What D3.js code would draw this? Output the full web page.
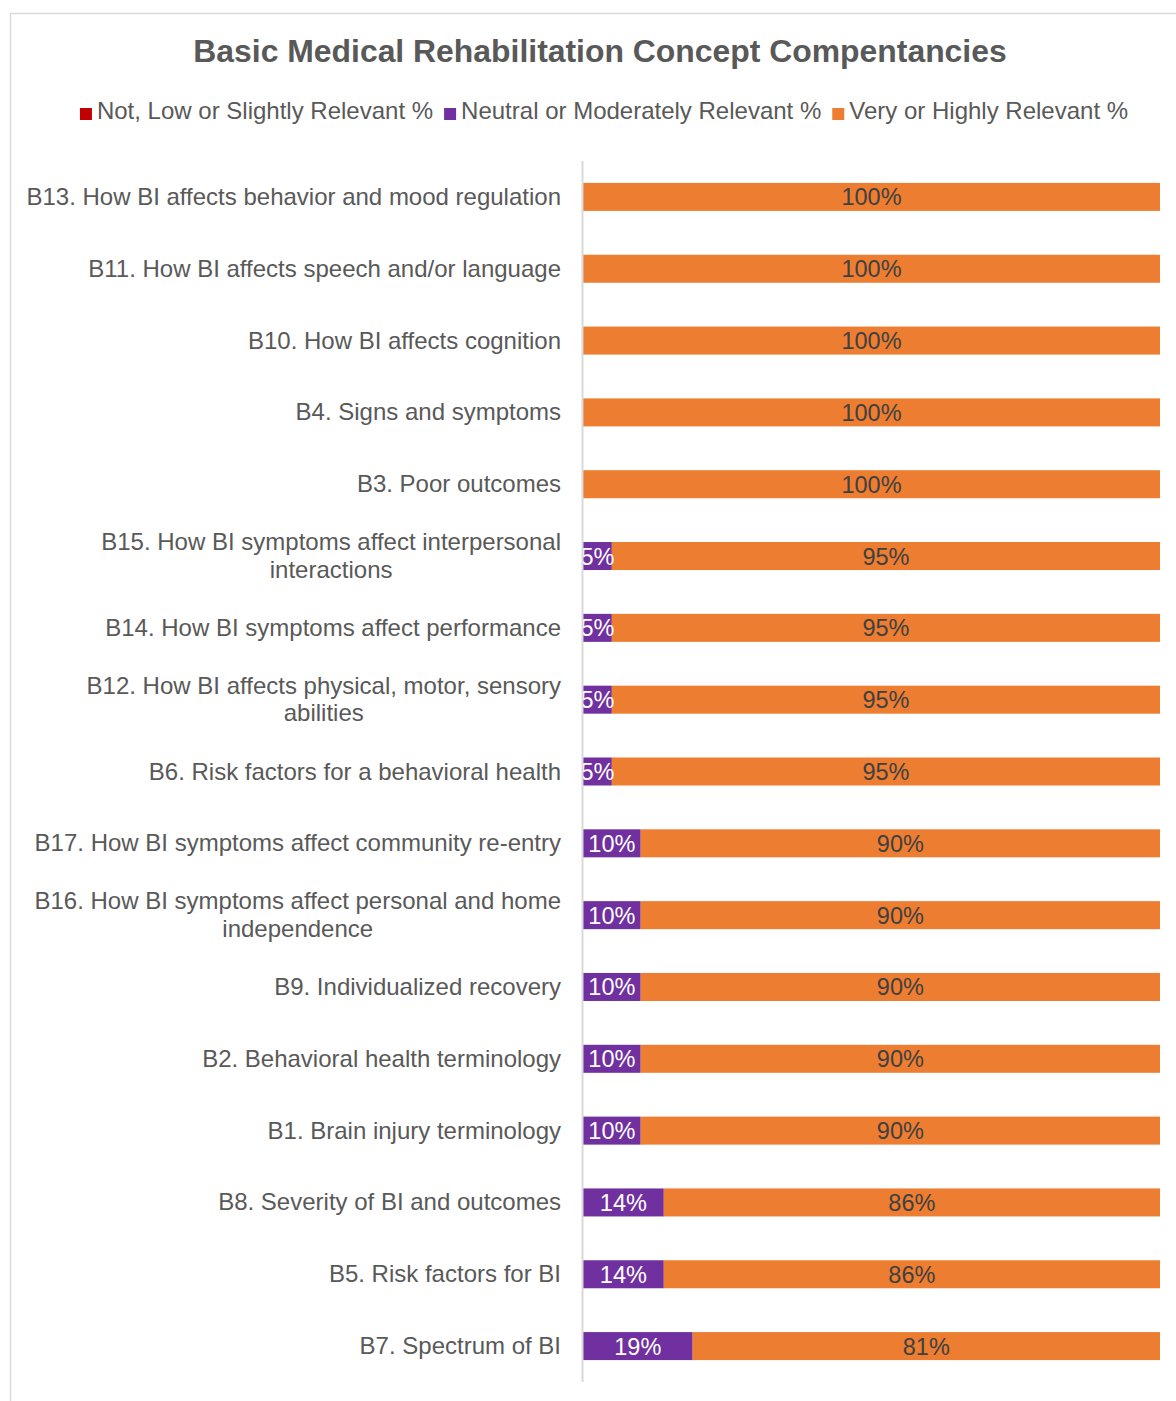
<!DOCTYPE html>
<html>
<head>
<meta charset="utf-8">
<script src="https://cdn.jsdelivr.net/npm/d3@7"></script>
<style>
  html, body { margin: 0; padding: 0; background: #fff; }
  svg { display: block; font-family: "Liberation Sans", Arial, sans-serif; }
</style>
</head>
<body>
<svg id="chart" width="1176" height="1401"></svg>
<script>
// Competency items, top to bottom
const categories = [
  "B13. How BI affects behavior and mood regulation",
  "B11. How BI affects speech and/or language",
  "B10. How BI affects cognition",
  "B4. Signs and symptoms",
  "B3. Poor outcomes",
  "B15. How BI symptoms affect interpersonal interactions",
  "B14. How BI symptoms affect performance",
  "B12. How BI affects physical, motor, sensory abilities",
  "B6. Risk factors for a behavioral health",
  "B17. How BI symptoms affect community re-entry",
  "B16. How BI symptoms affect personal and home independence",
  "B9. Individualized recovery",
  "B2. Behavioral health terminology",
  "B1. Brain injury terminology",
  "B8. Severity of BI and outcomes",
  "B5. Risk factors for BI",
  "B7. Spectrum of BI"
];
// Lines for labels that wrap onto two rows
const labelLines = {
  "B15. How BI symptoms affect interpersonal interactions": ["B15. How BI symptoms affect interpersonal", "interactions"],
  "B12. How BI affects physical, motor, sensory abilities": ["B12. How BI affects physical, motor, sensory", "abilities"],
  "B16. How BI symptoms affect personal and home independence": ["B16. How BI symptoms affect personal and home", "independence"]
};

const seriesNames = ["Not, Low or Slightly Relevant %", "Neutral or Moderately Relevant %", "Very or Highly Relevant %"];
const lowValues      = [0, 0, 0, 0, 0, 0, 0, 0, 0, 0, 0, 0, 0, 0, 0, 0, 0];
const neutralValues  = [0, 0, 0, 0, 0, 5, 5, 5, 5, 10, 10, 10, 10, 10, 14, 14, 19];
const highValues     = [100, 100, 100, 100, 100, 95, 95, 95, 95, 90, 90, 90, 90, 90, 86, 86, 81];
const seriesColors = ["#C00000", "#7030A0", "#ED7D31"];
const labelColors  = ["#ffffff", "#ffffff", "#404040"];

const svg = d3.select("#chart");
const W = 1176, H = 1401;

// Chart frame
svg.append("rect")
  .attr("x", 10.5).attr("y", 13.5)
  .attr("width", W + 20).attr("height", H + 20)
  .attr("fill", "#fff").attr("stroke", "#d9d9d9").attr("stroke-width", 1.5);

// Title
svg.append("text")
  .attr("x", 600).attr("y", 62)
  .attr("text-anchor", "middle")
  .attr("font-size", 31.9).attr("font-weight", "bold")
  .attr("fill", "#595959")
  .text("Basic Medical Rehabilitation Concept Compentancies");

// Legend
const legend = svg.append("g");
let lx = 0;
seriesNames.forEach((name, i) => {
  const g = legend.append("g").attr("transform", `translate(${lx},0)`);
  g.append("rect").attr("x", 0).attr("y", -11).attr("width", 12).attr("height", 12).attr("fill", seriesColors[i]);
  const t = g.append("text").attr("x", 17).attr("y", 0)
    .attr("font-size", 24).attr("fill", "#595959").text(name);
  lx += 17 + t.node().getComputedTextLength() + 11;
});
const legendW = lx - 11;
legend.attr("transform", `translate(${604 - legendW / 2},119)`);

// Plot area
const margin = { left: 583, right: 16, top: 161, bottom: 19 };
const x = d3.scaleLinear().domain([0, 100]).range([margin.left, W - margin.right]);
const y = d3.scaleBand().domain(categories).range([margin.top, H - margin.bottom]).paddingInner(0.61).paddingOuter(0.305);

const stackData = categories.map((c, i) => ({ cat: c, low: lowValues[i], neutral: neutralValues[i], high: highValues[i] }));
const stack = d3.stack().keys(["low", "neutral", "high"])(stackData);

svg.append("defs").append("clipPath").attr("id", "plotClip")
  .append("rect").attr("x", margin.left).attr("y", margin.top)
  .attr("width", W - margin.right - margin.left).attr("height", H - margin.bottom - margin.top);

const layers = svg.append("g").selectAll("g").data(stack).join("g")
  .attr("fill", (d, i) => seriesColors[i]);

layers.selectAll("rect").data(d => d).join("rect")
  .attr("x", d => x(d[0]))
  .attr("y", d => y(d.data.cat))
  .attr("width", d => x(d[1]) - x(d[0]))
  .attr("height", y.bandwidth());

// Value labels centred in each segment
const labels = svg.append("g").attr("clip-path", "url(#plotClip)");
stack.forEach((layer, i) => {
  labels.selectAll(null).data(layer.filter(d => d[1] - d[0] > 0)).join("text")
    .attr("x", d => (x(d[0]) + x(d[1])) / 2)
    .attr("y", d => y(d.data.cat) + y.bandwidth() / 2 + 8.5)
    .attr("text-anchor", "middle")
    .attr("font-size", 23.5)
    .attr("fill", labelColors[i])
    .text(d => Math.round(d[1] - d[0]) + "%");
});

// Category axis line
svg.append("line")
  .attr("x1", margin.left - 0.5).attr("x2", margin.left - 0.5)
  .attr("y1", margin.top).attr("y2", H - margin.bottom)
  .attr("stroke", "#d9d9d9").attr("stroke-width", 2);

// Category labels: block right-aligned, each line centred within the block
const catG = svg.append("g");
const labelRight = 561;
categories.forEach(c => {
  const lines = labelLines[c] || [c];
  const cy = y(c) + y.bandwidth() / 2;
  const lineH = 27.5;
  const texts = lines.map((ln, k) => catG.append("text")
    .attr("font-size", 24).attr("fill", "#595959")
    .attr("text-anchor", "middle")
    .attr("y", cy + 8 + (k - (lines.length - 1) / 2) * lineH)
    .text(ln));
  const blockW = d3.max(texts, t => t.node().getComputedTextLength());
  texts.forEach(t => t.attr("x", labelRight - blockW / 2));
});
</script>
</body>
</html>
